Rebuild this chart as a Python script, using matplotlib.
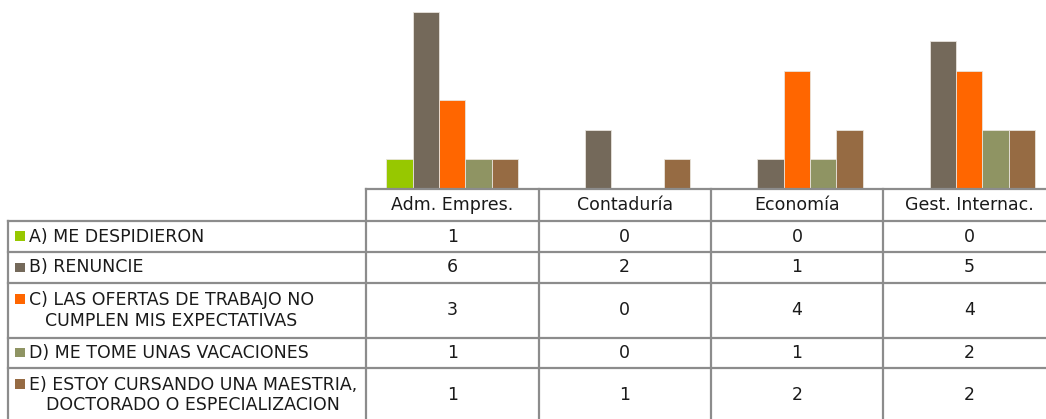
import matplotlib
matplotlib.use("Agg")
import matplotlib.pyplot as plt
import numpy as np
from matplotlib.patches import Rectangle
from matplotlib.lines import Line2D

plt.rcParams['font.family'] = ['DejaVu Sans']

W, H = 1046, 419

categories = ["Adm. Empres.", "Contaduría", "Economía", "Gest. Internac."]
series_labels = [
    "A) ME DESPIDIERON",
    "B) RENUNCIE",
    "C) LAS OFERTAS DE TRABAJO NO\nCUMPLEN MIS EXPECTATIVAS",
    "D) ME TOME UNAS VACACIONES",
    "E) ESTOY CURSANDO UNA MAESTRIA,\nDOCTORADO O ESPECIALIZACION",
]
despidieron = [1, 0, 0, 0]
renuncie = [6, 2, 1, 5]
ofertas = [3, 0, 4, 4]
vacaciones = [1, 0, 1, 2]
estudios = [1, 1, 2, 2]
values = [despidieron, renuncie, ofertas, vacaciones, estudios]
colors = ["#97c800", "#74695a", "#ff6600", "#8f9463", "#966b43"]

# layout in pixels
col_x = [366, 538.5, 711, 883, 1055.5]
table_left = 8
row_y = [189, 221, 252, 283, 337.5, 368, 422]
grid = "#8c8c8c"


def fx(x):
    return x / W


def fy(y):
    return 1 - y / H


fig = plt.figure(figsize=(W / 100, H / 100), dpi=100)

ax = fig.add_axes([fx(col_x[0]), fy(row_y[0]), fx(col_x[-1] - col_x[0]),
                   row_y[0] / H])
n = len(values)
width = 0.153
x = np.arange(len(categories))
for i, (vals, c) in enumerate(zip(values, colors)):
    ax.bar(x + (i - (n - 1) / 2) * width, vals, width, color=c,
           edgecolor="#e8e4dc", linewidth=0.6)
ax.set_xlim(-0.5, len(categories) - 0.5)
ax.set_ylim(0, row_y[0] / 29.5)
ax.axis("off")

# table lines
lw = 1.6
fig.add_artist(Line2D([fx(col_x[0]), fx(col_x[-1])], [fy(row_y[0])] * 2,
                      color=grid, lw=lw))
for y in row_y[1:-1]:
    fig.add_artist(Line2D([fx(table_left), fx(col_x[-1])], [fy(y)] * 2,
                          color=grid, lw=lw))
fig.add_artist(Line2D([fx(table_left)] * 2, [fy(row_y[1]), fy(row_y[-1])],
                      color=grid, lw=lw))
for cx in col_x:
    fig.add_artist(Line2D([fx(cx)] * 2, [fy(row_y[0]), fy(row_y[-1])],
                          color=grid, lw=lw))

fs = 12.5
tc = "#1a1a1a"
for j, cat in enumerate(categories):
    xc = (col_x[j] + col_x[j + 1]) / 2
    fig.text(fx(xc), fy((row_y[0] + row_y[1]) / 2), cat, ha="center",
             va="center", fontsize=fs, color=tc)

for i, (lab, vals, c) in enumerate(zip(series_labels, values, colors)):
    yc = (row_y[i + 1] + row_y[i + 2]) / 2
    two = "\n" in lab
    first_y = yc - 11 if two else yc
    fig.add_artist(Rectangle((fx(15), fy(first_y + 4.5)), 9.5 / W, 9.5 / H,
                             transform=fig.transFigure, color=c, lw=0))
    fig.text(fx(29), fy(yc), lab, ha="left", va="center", fontsize=fs,
             multialignment="center", color=tc, linespacing=1.2)
    for j, v in enumerate(vals):
        xc = (col_x[j] + col_x[j + 1]) / 2
        fig.text(fx(xc), fy(yc), str(v), ha="center", va="center",
                 fontsize=fs, color=tc)

fig.savefig("out.png", dpi=100)
